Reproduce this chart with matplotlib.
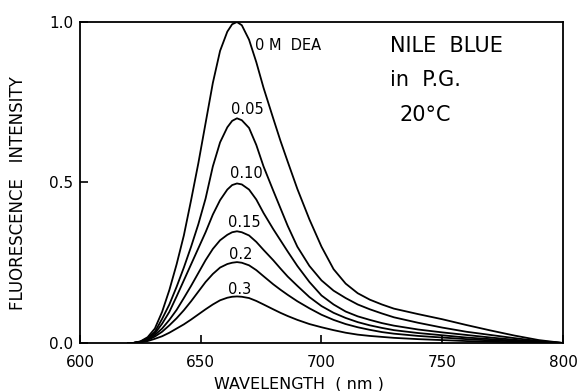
import numpy as np
import matplotlib
matplotlib.use("Agg")
import matplotlib.pyplot as plt

# wavelength grid (nm) shared by all curves
wavelength = [620, 622, 625, 628, 631, 634, 637, 640, 643, 646, 649, 652, 655, 658,
              661, 663, 665, 667, 670, 673, 676, 680, 683, 686, 690, 695, 700, 705,
              710, 715, 720, 725, 730, 740, 750, 760, 770, 780, 790, 800]

dea_0 = [0, 0, 0.005, 0.018, 0.045, 0.097, 0.165, 0.245, 0.335, 0.445, 0.56, 0.685, 0.81, 0.91,
         0.97, 0.993, 1.0, 0.99, 0.945, 0.875, 0.795, 0.70, 0.63, 0.565, 0.48, 0.385, 0.30, 0.23,
         0.185, 0.155, 0.135, 0.12, 0.107, 0.09, 0.074, 0.056, 0.039, 0.023, 0.009, 0]
dea_005 = [0, 0, 0.004, 0.014, 0.035, 0.075, 0.12, 0.175, 0.235, 0.30, 0.37, 0.45, 0.55, 0.625,
           0.672, 0.692, 0.70, 0.694, 0.67, 0.617, 0.55, 0.475, 0.42, 0.365, 0.30, 0.24, 0.195, 0.163,
           0.14, 0.12, 0.105, 0.092, 0.08, 0.063, 0.048, 0.035, 0.025, 0.015, 0.006, 0]
dea_010 = [0, 0, 0.004, 0.013, 0.03, 0.06, 0.097, 0.145, 0.195, 0.245, 0.295, 0.345, 0.40, 0.445,
           0.478, 0.492, 0.497, 0.494, 0.478, 0.447, 0.405, 0.355, 0.32, 0.285, 0.24, 0.19, 0.148, 0.12,
           0.098, 0.083, 0.072, 0.062, 0.054, 0.042, 0.033, 0.025, 0.017, 0.01, 0.004, 0]
dea_015 = [0, 0, 0.003, 0.011, 0.025, 0.045, 0.072, 0.103, 0.14, 0.178, 0.218, 0.258, 0.293, 0.32,
           0.337, 0.345, 0.348, 0.345, 0.335, 0.315, 0.29, 0.258, 0.232, 0.207, 0.178, 0.143, 0.115, 0.094,
           0.078, 0.065, 0.055, 0.047, 0.04, 0.031, 0.024, 0.017, 0.012, 0.007, 0.003, 0]
dea_02 = [0, 0, 0.003, 0.009, 0.02, 0.035, 0.055, 0.077, 0.102, 0.13, 0.16, 0.19, 0.215, 0.235,
          0.246, 0.25, 0.252, 0.25, 0.242, 0.227, 0.208, 0.183, 0.166, 0.15, 0.13, 0.108, 0.088, 0.072,
          0.059, 0.049, 0.041, 0.034, 0.029, 0.022, 0.017, 0.012, 0.008, 0.005, 0.002, 0]
dea_03 = [0, 0, 0.002, 0.006, 0.013, 0.021, 0.032, 0.045, 0.058, 0.073, 0.089, 0.105, 0.12, 0.133,
          0.141, 0.144, 0.145, 0.144, 0.14, 0.131, 0.12, 0.105, 0.094, 0.084, 0.072, 0.059, 0.049, 0.04,
          0.032, 0.026, 0.022, 0.019, 0.016, 0.012, 0.009, 0.006, 0.004, 0.002, 0.001, 0]

curves = [dea_0, dea_005, dea_010, dea_015, dea_02, dea_03]
labels = ["0 M  DEA", "0.05", "0.10", "0.15", "0.2", "0.3"]
# label anchor points (nm, intensity)
label_x = [672.5, 669.5, 669, 668, 666.5, 666]
label_y = [0.928, 0.726, 0.529, 0.374, 0.277, 0.167]

fig = plt.figure(figsize=(5.81, 3.91), dpi=100)
ax = fig.add_axes([0.1377, 0.1228, 0.8313, 0.8209])

for vals in curves:
    ax.plot(wavelength, vals, color="black", lw=1.3)

for i, txt in enumerate(labels):
    ha = "left" if i == 0 else "center"
    ax.text(label_x[i], label_y[i], txt, ha=ha, va="center", fontsize=10.5)

ax.text(0.641, 0.925, "NILE  BLUE", transform=ax.transAxes, fontsize=15, va="center")
ax.text(0.641, 0.82, "in  P.G.", transform=ax.transAxes, fontsize=15, va="center")
ax.text(0.662, 0.71, "20°C", transform=ax.transAxes, fontsize=15, va="center")

ax.set_xlim(600, 800)
ax.set_ylim(0, 1.0)
ax.set_xticks([600, 650, 700, 750, 800])
ax.set_yticks([0.0, 0.5, 1.0])
ax.set_yticklabels(["0.0", "0.5", "1.0"])
ax.tick_params(direction="in", length=6, width=1.2, labelsize=11, pad=5)
ax.tick_params(axis="x", pad=9)
for sp in ax.spines.values():
    sp.set_linewidth(1.3)

ax.set_xlabel("WAVELENGTH  ( nm )", fontsize=11.5)
ax.xaxis.set_label_coords(0.453, -0.105)
ax.set_ylabel("FLUORESCENCE   INTENSITY", fontsize=12)
ax.yaxis.set_label_coords(-0.11, 0.467)

fig.savefig("out.png", dpi=100)
